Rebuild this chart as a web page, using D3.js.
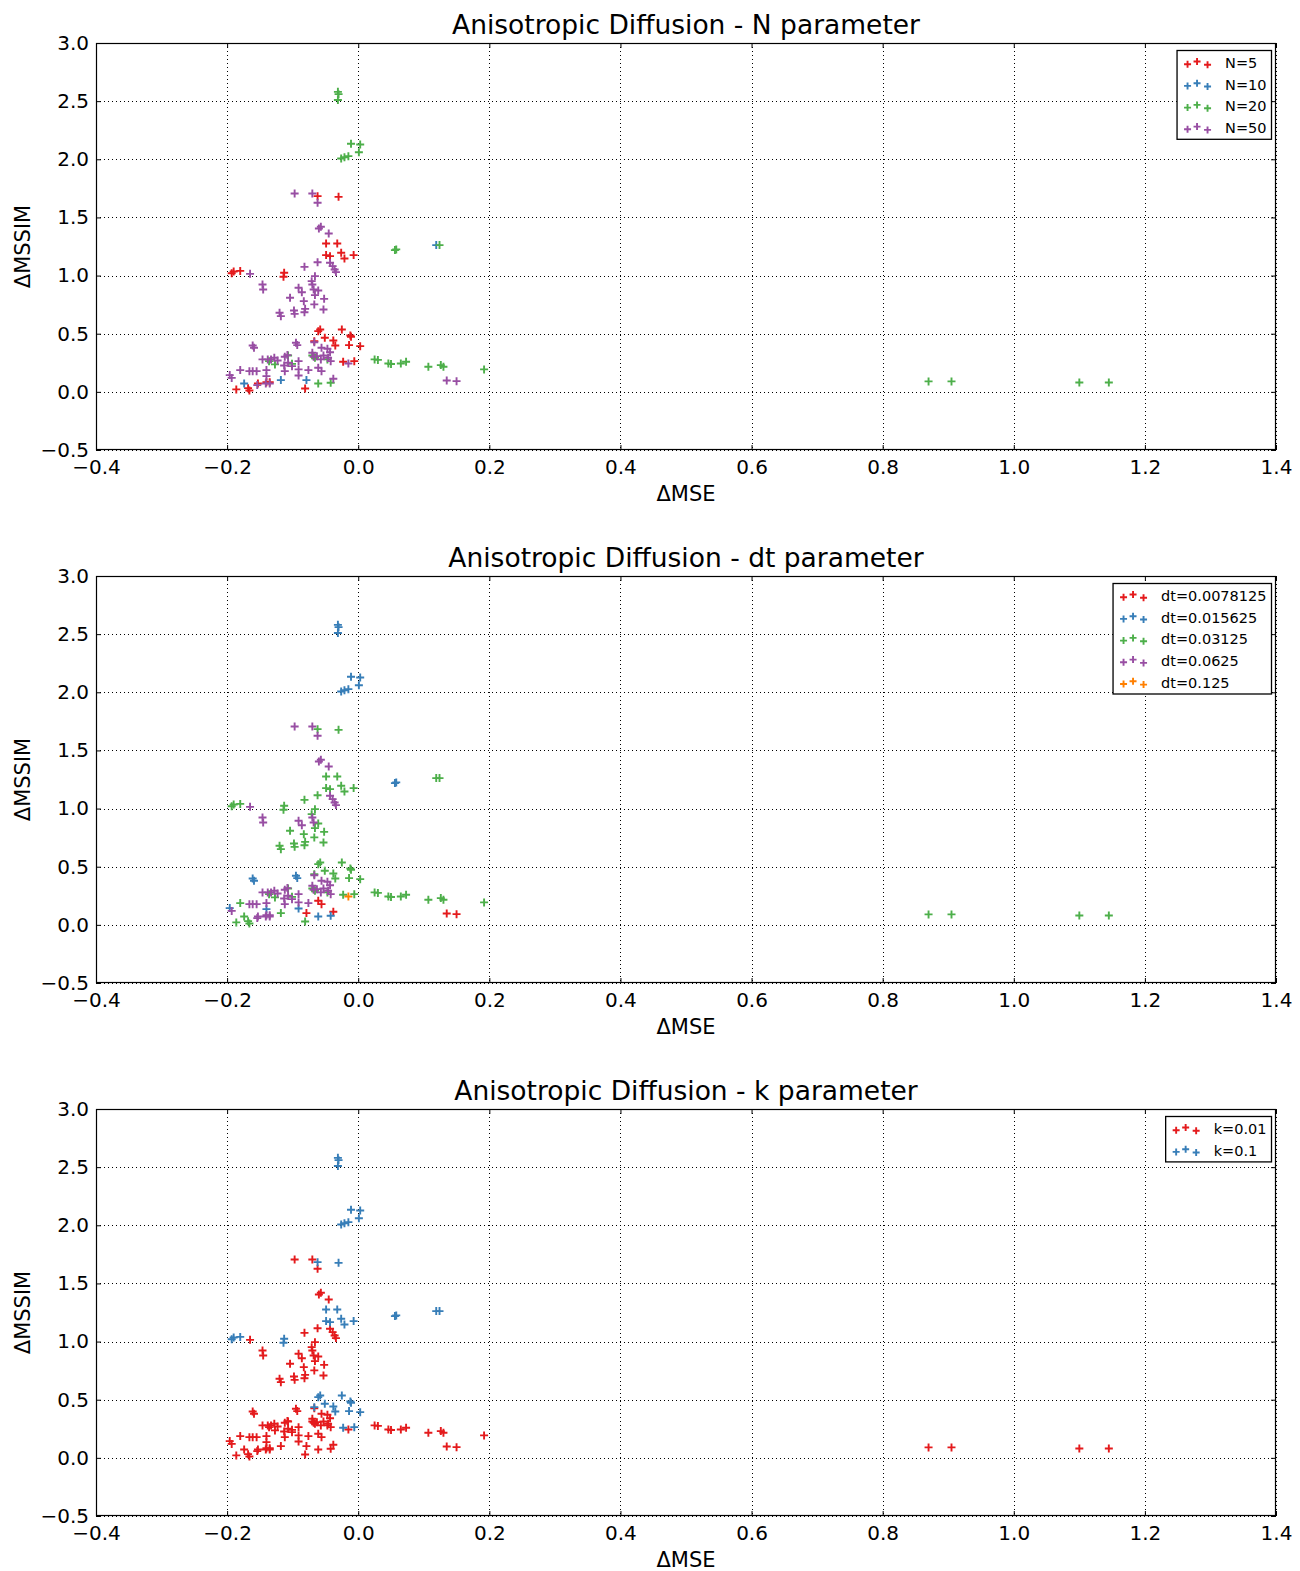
<!DOCTYPE html>
<html><head><meta charset="utf-8">
<script src="https://cdn.jsdelivr.net/npm/d3@7"></script>
<style>body{margin:0;background:#fff}svg{display:block}text{font-family:"DejaVu Sans",sans-serif;fill:#000}</style>
</head><body>
<script>
// ---- data: [ΔMSE, ΔMSSIM, N, dt, k] ----
const samples = [
  [-0.031,2.580,20,0.015625,0.1],[-0.030,2.560,20,0.015625,0.1],[-0.031,2.510,20,0.015625,0.1],
  [-0.011,2.133,20,0.015625,0.1],[0.003,2.127,20,0.015625,0.1],[0.001,2.061,20,0.015625,0.1],
  [-0.026,2.007,20,0.015625,0.1],[-0.021,2.018,20,0.015625,0.1],[-0.015,2.027,20,0.015625,0.1],
  [0.056,1.219,20,0.015625,0.1],[0.058,1.225,20,0.015625,0.1],
  [0.119,1.262,10,0.03125,0.1],[0.124,1.262,20,0.03125,0.1],
  [-0.097,1.706,50,0.0625,0.01],[-0.070,1.706,50,0.0625,0.01],[-0.062,1.626,50,0.0625,0.01],
  [-0.060,1.405,50,0.0625,0.01],[-0.057,1.420,50,0.0625,0.01],[-0.045,1.362,50,0.0625,0.01],
  [-0.062,1.683,5,0.03125,0.1],[-0.030,1.677,5,0.03125,0.1],
  [-0.049,1.276,5,0.03125,0.1],[-0.032,1.276,5,0.03125,0.1],[-0.049,1.176,5,0.03125,0.1],
  [-0.043,1.167,5,0.03125,0.1],[-0.026,1.196,5,0.03125,0.1],[-0.021,1.147,5,0.03125,0.1],
  [-0.007,1.176,5,0.03125,0.1],[-0.193,1.020,5,0.03125,0.1],[-0.190,1.035,5,0.03125,0.1],
  [-0.180,1.040,5,0.03125,0.1],[-0.113,1.024,5,0.03125,0.1],[-0.114,0.990,5,0.03125,0.1],
  [-0.165,1.015,50,0.0625,0.01],[-0.043,1.110,50,0.0625,0.01],[-0.039,1.081,50,0.0625,0.01],
  [-0.036,1.052,50,0.0625,0.01],[-0.034,1.030,50,0.0625,0.01],
  [-0.062,1.115,50,0.03125,0.01],[-0.082,1.075,50,0.03125,0.01],
  [-0.146,0.923,50,0.0625,0.01],[-0.145,0.880,50,0.0625,0.01],[-0.091,0.895,50,0.0625,0.01],
  [-0.086,0.857,50,0.0625,0.01],[-0.104,0.809,50,0.03125,0.01],[-0.066,0.995,50,0.03125,0.01],
  [-0.071,0.952,50,0.03125,0.01],[-0.070,0.923,50,0.0625,0.01],[-0.068,0.880,50,0.0625,0.01],
  [-0.061,0.872,50,0.03125,0.01],[-0.066,0.832,50,0.03125,0.01],[-0.083,0.780,50,0.03125,0.01],
  [-0.067,0.752,50,0.03125,0.01],[-0.052,0.800,50,0.03125,0.01],[-0.053,0.708,50,0.03125,0.01],
  [-0.098,0.700,50,0.03125,0.01],[-0.097,0.671,50,0.03125,0.01],[-0.081,0.714,50,0.03125,0.01],
  [-0.082,0.685,50,0.03125,0.01],[-0.120,0.680,50,0.03125,0.01],[-0.118,0.651,50,0.03125,0.01],
  [-0.058,0.536,5,0.03125,0.1],[-0.061,0.522,5,0.03125,0.1],[-0.025,0.536,5,0.03125,0.1],
  [-0.012,0.485,5,0.03125,0.1],[-0.011,0.474,5,0.03125,0.1],[-0.051,0.465,5,0.03125,0.1],
  [-0.038,0.442,5,0.03125,0.1],[-0.035,0.399,5,0.03125,0.1],[-0.014,0.402,5,0.03125,0.1],
  [0.003,0.393,5,0.03125,0.1],[-0.067,0.436,5,0.03125,0.1],[-0.023,0.259,5,0.03125,0.1],
  [-0.006,0.264,5,0.03125,0.1],
  [-0.186,0.021,5,0.03125,0.01],[-0.168,0.032,5,0.03125,0.01],[-0.166,0.012,5,0.03125,0.01],
  [-0.153,0.072,5,0.0625,0.01],[-0.140,0.083,5,0.0625,0.01],[-0.135,0.083,5,0.0625,0.01],
  [-0.081,0.029,5,0.03125,0.01],
  [-0.174,0.072,10,0.03125,0.01],[-0.118,0.101,10,0.03125,0.01],[-0.079,0.101,10,0.0078125,0.01],
  [-0.136,0.264,20,0.03125,0.01],[-0.127,0.236,20,0.03125,0.01],[-0.107,0.313,20,0.03125,0.01],
  [-0.101,0.241,20,0.03125,0.01],[-0.070,0.313,20,0.03125,0.01],[-0.066,0.293,20,0.03125,0.01],
  [-0.047,0.279,20,0.03125,0.01],[-0.061,0.072,20,0.015625,0.01],[-0.042,0.078,20,0.015625,0.01],
  [0.025,0.279,20,0.03125,0.01],[0.030,0.275,20,0.03125,0.01],[0.046,0.244,20,0.03125,0.01],
  [0.050,0.240,20,0.03125,0.01],[0.065,0.244,20,0.03125,0.01],[0.073,0.259,20,0.03125,0.01],
  [0.107,0.216,20,0.03125,0.01],[0.126,0.230,20,0.03125,0.01],[0.130,0.216,20,0.03125,0.01],
  [0.192,0.193,20,0.03125,0.01],[0.870,0.090,20,0.03125,0.01],[0.905,0.090,20,0.03125,0.01],
  [1.100,0.080,20,0.03125,0.01],[1.145,0.080,20,0.03125,0.01],
  [-0.196,0.144,50,0.015625,0.01],[-0.193,0.120,50,0.0625,0.01],[-0.180,0.187,50,0.03125,0.01],
  [-0.166,0.178,50,0.0625,0.01],[-0.161,0.178,50,0.0625,0.01],[-0.155,0.178,50,0.0625,0.01],
  [-0.161,0.399,50,0.015625,0.01],[-0.159,0.379,50,0.015625,0.01],[-0.154,0.058,50,0.0625,0.01],
  [-0.146,0.279,50,0.0625,0.01],[-0.138,0.279,50,0.0625,0.01],[-0.133,0.279,50,0.0625,0.01],
  [-0.128,0.293,50,0.0625,0.01],[-0.123,0.270,50,0.0625,0.01],[-0.140,0.187,50,0.0625,0.01],
  [-0.140,0.135,50,0.015625,0.01],[-0.141,0.072,50,0.0625,0.01],[-0.135,0.072,50,0.0625,0.01],
  [-0.112,0.302,50,0.0625,0.01],[-0.108,0.316,50,0.0625,0.01],[-0.113,0.227,50,0.0625,0.01],
  [-0.107,0.250,50,0.0625,0.01],[-0.101,0.221,50,0.0625,0.01],[-0.112,0.178,50,0.0625,0.01],
  [-0.095,0.422,50,0.015625,0.01],[-0.093,0.402,50,0.015625,0.01],[-0.091,0.264,50,0.0625,0.01],
  [-0.091,0.193,50,0.0625,0.01],[-0.091,0.141,50,0.015625,0.01],[-0.076,0.187,50,0.0625,0.01],
  [-0.067,0.427,50,0.0625,0.01],[-0.070,0.336,50,0.0625,0.01],[-0.068,0.302,50,0.0625,0.01],
  [-0.063,0.307,50,0.0625,0.01],[-0.057,0.279,50,0.0625,0.01],[-0.053,0.313,50,0.0625,0.01],
  [-0.046,0.293,50,0.0625,0.01],[-0.043,0.341,50,0.0625,0.01],[-0.042,0.264,50,0.0625,0.01],
  [-0.056,0.379,50,0.0625,0.01],[-0.047,0.371,50,0.0625,0.01],
  [-0.061,0.207,50,0.0078125,0.01],[-0.056,0.178,50,0.0078125,0.01],[-0.038,0.113,50,0.0078125,0.01],
  [-0.015,0.244,50,0.125,0.01],[0.135,0.098,50,0.0078125,0.01],[0.150,0.092,50,0.0078125,0.01]
];
const nLevels = [5, 10, 20, 50];
const dtLevels = [0.0078125, 0.015625, 0.03125, 0.0625, 0.125];
const kLevels = [0.01, 0.1];
const seriesColors = ["#e41a1c", "#377eb8", "#4daf4a", "#984ea3", "#ff7f00"];
const panelTitles = ["Anisotropic Diffusion - N parameter", "Anisotropic Diffusion - dt parameter", "Anisotropic Diffusion - k parameter"];
const xTicks = [-0.4, -0.2, 0.0, 0.2, 0.4, 0.6, 0.8, 1.0, 1.2, 1.4];
const yTicks = [-0.5, 0.0, 0.5, 1.0, 1.5, 2.0, 2.5, 3.0];
const xLabel = "ΔMSE", yLabel = "ΔMSSIM";

const panels = [
  {levels: nLevels, col: 2, name: "N"},
  {levels: dtLevels, col: 3, name: "dt"},
  {levels: kLevels, col: 4, name: "k"}
];

const W = 1300, H = 1571;
const L = 96, R = 1276, PH = 407, tops = [43, 576, 1109];
const svg = d3.select("body").append("svg").attr("width", W).attr("height", H);
const fmt = v => { const s = Math.abs(v).toFixed(1); return v < 0 ? "\u2212" + s : s; };
const plus = "M-4,0H4M0,-4V4";

panels.forEach((p, pi) => {
  const top = tops[pi];
  const g = svg.append("g");
  const x = d3.scaleLinear().domain([-0.4, 1.4]).range([L, R]);
  const y = d3.scaleLinear().domain([-0.5, 3.0]).range([top + PH, top]);
  // grid
  const grid = g.append("g").attr("stroke", "#000").attr("stroke-width", 1).attr("stroke-dasharray", "1,3");
  grid.selectAll(".gx").data(xTicks).join("line").attr("x1", d => Math.round(x(d)) + 0.5).attr("x2", d => Math.round(x(d)) + 0.5).attr("y1", top).attr("y2", top + PH);
  grid.selectAll(".gy").data(yTicks).join("line").attr("y1", d => Math.round(y(d)) + 0.5).attr("y2", d => Math.round(y(d)) + 0.5).attr("x1", L).attr("x2", R);
  // points
  p.levels.forEach((lv, li) => {
    const pts = samples.filter(s => s[p.col] === lv);
    g.append("g").selectAll("path").data(pts).join("path")
      .attr("d", plus).attr("transform", d => `translate(${x(d[0])},${y(d[1])})`)
      .attr("stroke", seriesColors[li]).attr("stroke-width", 1.9).attr("fill", "none");
  });
  // axes
  const ax = (a) => a.call(s => s.select(".domain").remove()).call(s => s.selectAll("line").attr("stroke", "#000")).call(s => s.selectAll("text").attr("font-size", 20).attr("font-family", "DejaVu Sans"));
  g.append("g").attr("transform", `translate(0,${top + PH})`).call(d3.axisBottom(x).tickValues(xTicks).tickFormat(fmt).tickSize(-5).tickPadding(10)).call(ax);
  g.append("g").attr("transform", `translate(0,${top})`).call(d3.axisTop(x).tickValues(xTicks).tickFormat("").tickSize(-5)).call(ax);
  g.append("g").attr("transform", `translate(${L},0)`).call(d3.axisLeft(y).tickValues(yTicks).tickFormat(fmt).tickSize(-5).tickPadding(7)).call(ax);
  g.append("g").attr("transform", `translate(${R},0)`).call(d3.axisRight(y).tickValues(yTicks).tickFormat("").tickSize(-5)).call(ax);
  g.append("rect").attr("x", L + 0.5).attr("y", top + 0.5).attr("width", R - L - 1).attr("height", PH - 1).attr("fill", "none").attr("stroke", "#000").attr("stroke-width", 1.2);
  // labels
  g.append("text").attr("x", (L + R) / 2).attr("y", top - 9).attr("text-anchor", "middle").attr("font-size", 26.5).text(panelTitles[pi]);
  g.append("text").attr("x", (L + R) / 2).attr("y", top + PH + 51).attr("text-anchor", "middle").attr("font-size", 21).text(xLabel);
  g.append("text").attr("transform", `translate(30,${top + PH / 2}) rotate(-90)`).attr("text-anchor", "middle").attr("font-size", 21).text(yLabel);
  // legend
  const lg = g.append("g");
  const rowH = 21.7, boxTop = top + 7.5, boxRight = 1271.5;
  const texts = lg.selectAll("text").data(p.levels).join("text")
    .attr("y", (d, i) => boxTop + 12.5 + i * rowH).attr("dy", "0.35em").attr("font-size", 14.5)
    .text(d => `${p.name}=${d}`);
  let maxW = 0; texts.each(function () { maxW = Math.max(maxW, this.getComputedTextLength()); });
  const boxLeft = boxRight - (48 + maxW + 5);
  texts.attr("x", boxLeft + 48);
  lg.insert("rect", "text").attr("x", boxLeft).attr("y", boxTop).attr("width", boxRight - boxLeft).attr("height", p.levels.length * rowH + 2)
    .attr("fill", "#fff").attr("stroke", "#000").attr("stroke-width", 1.3);
  const offs = [[10.5, 1.2], [20, -1.5], [30.5, 1.8]];
  p.levels.forEach((lv, i) => {
    offs.forEach(o => {
      lg.append("path").attr("d", "M-3.5,0H3.5M0,-3.5V3.5").attr("transform", `translate(${boxLeft + o[0]},${boxTop + 12.5 + i * rowH + o[1]})`)
        .attr("stroke", seriesColors[i]).attr("stroke-width", 1.9).attr("fill", "none");
    });
  });
});
</script>
</body></html>
